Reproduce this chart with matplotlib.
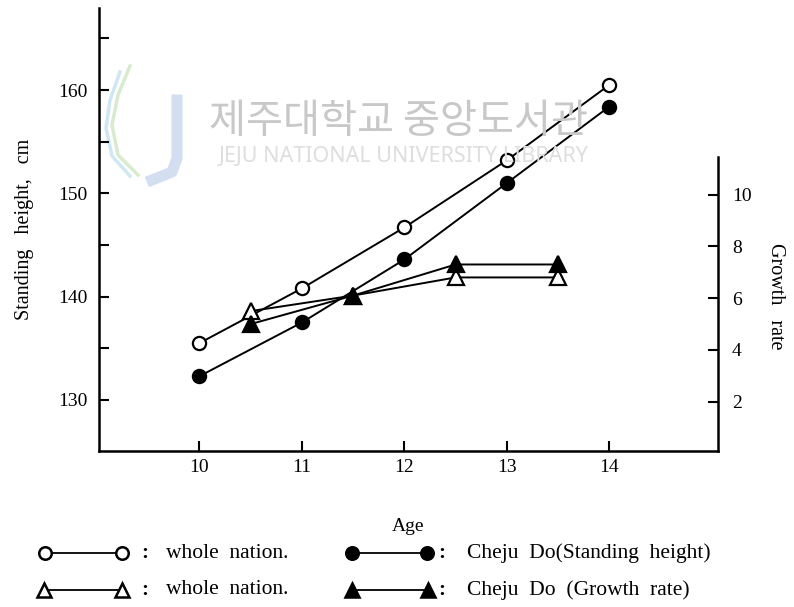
import matplotlib

matplotlib.use("Agg")
import matplotlib.pyplot as plt
from matplotlib.lines import Line2D
from matplotlib.ticker import FixedLocator

# --- données ---
ages = [10, 11, 12, 13, 14]
height_nation = [135.5, 140.8, 146.7, 153.2, 160.5]
height_cheju = [132.3, 137.5, 143.6, 151.0, 158.4]

rate_ages = [10.5, 11.5, 12.5, 13.5]
rate_nation = [5.5, 6.1, 6.8, 6.8]
rate_cheju = [5.0, 6.1, 7.3, 7.3]

height_ticks = [130, 140, 150, 160]
height_minor = [135, 145, 155, 165]
rate_ticks = [2, 4, 6, 8, 10]

W, H = 794, 607
SERIF = "Liberation Serif"
plt.rcParams["font.family"] = [SERIF, "DejaVu Serif"]


def px(x, y):
    """Pixels (origine en haut à gauche) -> coordonnées figure."""
    return x / W, 1 - y / H


def fig_line(xs, ys, **kw):
    fig.add_artist(Line2D([x / W for x in xs], [1 - y / H for y in ys], **kw))


fig = plt.figure(figsize=(W / 100, H / 100), dpi=100)
fig.patch.set_facecolor("white")

# filigrane de la bibliothèque (scan d'origine)
fig.text(*px(398, 121), "제주대학교 중앙도서관", family=["Noto Sans CJK KR"],
         fontsize=29, color="#c8c8c8", ha="center", va="center", zorder=0)
fig.text(*px(404, 157), "JEJU NATIONAL UNIVERSITY LIBRARY", family=["Noto Sans"],
         fontsize=15.5, color="#dedede", ha="center", va="center", zorder=0)
fig_line([177, 177, 172, 152], [100, 158, 172, 180], color="#c9d8ee", lw=8,
         alpha=0.8, zorder=0)
fig_line([130, 118, 112, 118, 138], [66, 95, 125, 155, 175], color="#cfe6c4",
         lw=2.5, alpha=0.8, zorder=0)
fig_line([120, 110, 106, 112, 130], [72, 100, 128, 156, 176], color="#c4e2f0",
         lw=2.5, alpha=0.8, zorder=0)

ax = fig.add_axes((99 / W, 1 - 451 / H, (718 - 99) / W, (451 - 8) / H))
ax.patch.set_alpha(0)
ax2 = ax.twinx()

ax.set_xlim(9.02, 15.06)
ax.set_ylim(125.06, 167.94)
ax2.set_ylim(0.1, 17.2)

kw = dict(color="black", lw=1.4, markersize=9.5, markeredgewidth=1.6, clip_on=False)
ax.plot(ages, height_nation, marker="o", markerfacecolor="white", zorder=3, **kw)
ax.plot(ages, height_cheju, marker="o", markerfacecolor="black", zorder=3, **kw)
ax2.plot(rate_ages, rate_nation, marker="^", markerfacecolor="white", zorder=3,
         **{**kw, "markersize": 11})
ax2.plot(rate_ages, rate_cheju, marker="^", markerfacecolor="black", zorder=3,
         **{**kw, "markersize": 11})

for a in (ax, ax2):
    a.spines["top"].set_visible(False)
ax.spines["right"].set_visible(False)
ax2.spines["left"].set_visible(False)
ax2.spines["bottom"].set_visible(False)
ax.spines["left"].set_linewidth(1.8)
ax.spines["bottom"].set_linewidth(1.8)
ax2.spines["right"].set_linewidth(1.8)
ax2.spines["right"].set_bounds(0.1, 11.45)

ax.xaxis.set_major_locator(FixedLocator(ages))
ax.yaxis.set_major_locator(FixedLocator(height_ticks))
ax.yaxis.set_minor_locator(FixedLocator(height_minor))
ax2.yaxis.set_major_locator(FixedLocator(rate_ticks))

ax.tick_params(axis="x", direction="in", length=7, width=1.5, pad=6, labelsize=14)
ax.tick_params(axis="y", which="both", direction="in", length=7, width=1.5, pad=8,
               labelsize=14)
ax2.tick_params(axis="y", direction="in", length=7, width=1.5, pad=10, labelsize=14)

ax.set_xlabel("Age", fontsize=14, labelpad=30)
ax.set_ylabel("Standing   height,   cm", fontsize=14.5, labelpad=18)
ax2.set_ylabel("Growth   rate", fontsize=14.5, rotation=-90)
ax2.yaxis.set_label_coords(1.108, 0.35)

# légende dessinée à la main, comme sur l'original
legend_rows = [
    (553, 45, 122, "o", "white", "whole  nation."),
    (590, 44, 122, "^", "white", "whole  nation."),
    (553, 352, 427, "o", "black", "Cheju  Do(Standing  height)"),
    (590, 352, 428, "^", "black", "Cheju  Do  (Growth  rate)"),
]
for y, x0, x1, mk, fc, label in legend_rows:
    fig_line([x0, x1], [y, y], color="black", lw=1.3, marker=mk,
             markersize=9 if mk == "o" else 9.5, markerfacecolor=fc,
             markeredgecolor="black", markeredgewidth=1.8)
    colon_x = 145 if x0 < 200 else 442
    text_x = 166 if x0 < 200 else 467
    fig.text(*px(colon_x, y), ":", fontsize=15, fontweight="bold", ha="center",
             va="center")
    fig.text(*px(text_x, y), label, fontsize=15.5, ha="left", va="center")

fig.savefig("out.png", dpi=100, facecolor="white")
